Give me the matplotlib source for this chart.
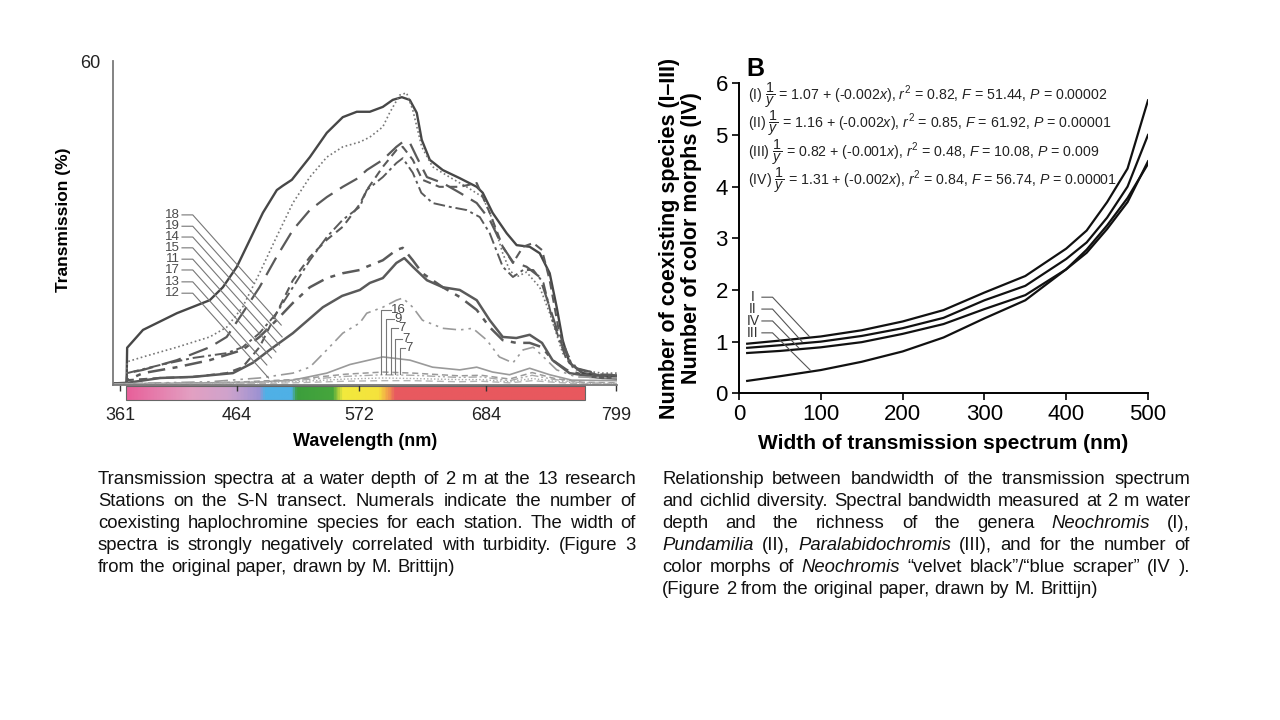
import matplotlib
matplotlib.use("Agg")
import matplotlib.pyplot as plt
import numpy as np
from matplotlib.colors import LinearSegmentedColormap
from matplotlib.patches import Rectangle

plt.rcParams['font.family'] = ['Liberation Sans', 'DejaVu Sans']
plt.rcParams['mathtext.fontset'] = 'custom'
plt.rcParams['mathtext.rm'] = 'Liberation Sans'
plt.rcParams['mathtext.it'] = 'Liberation Sans:italic'
plt.rcParams['mathtext.bf'] = 'Liberation Sans:bold'

# ---- left panel: transmission spectra, wavelength (nm) vs transmission (%)
wl_ticks = [361, 464, 572, 684, 799]

sa_nm = [356, 366.5, 367, 381, 411, 440, 451.6, 464, 475.5, 487, 499.3, 504.6, 512.6, 528.5, 543.5, 557.6, 570,
         581.5, 593, 601.8, 609.8, 616.8, 623, 627.4, 634.5, 646, 661, 676, 681.3, 690, 702.5, 711.3, 722.8,
         731.7, 740.5, 746.7, 752, 758, 769.7, 793.5, 800]
sa_pct = [0.3, 0.3, 6.9, 10.2, 13.3, 15.7, 18.1, 21.9, 26.9, 31.9, 36.1, 36.9, 38.0, 42.2, 46.7, 49.6, 50.6,
          50.6, 51.5, 52.8, 53.3, 52.8, 50.4, 45.4, 41.7, 39.8, 38.3, 36.7, 35.6, 31.9, 28.1, 25.9, 25.6,
          24.4, 20.7, 14.4, 8.3, 4.1, 2.2, 1.5, 1.5]

sb_nm = [356, 366.5, 367, 381, 411, 440, 455, 469, 484, 499, 513.5, 528.5, 543.5, 557.6, 572.7, 581.5, 593, 599,
         608, 614, 619.5, 627.4, 637, 652, 667, 681.3, 690, 699, 705, 711, 720, 731.7, 740.5, 752, 764, 787, 800]
sb_pct = [0.3, 0.3, 4.3, 5.2, 7.0, 8.9, 10.7, 14.4, 20.7, 27.4, 33.7, 38.5, 42.2, 44.1, 45.0, 45.9, 47.8, 50.4,
          53.7, 54.1, 50.9, 44.1, 40.4, 38.5, 36.7, 34.8, 30.6, 24.4, 21.3, 20.0, 20.9, 18.1, 13.3, 5.9, 2.8, 2.2, 2.2]

sc_nm = [356, 366.5, 367, 381, 411, 440, 455, 469, 484, 499, 513.5, 528.5, 543.5, 557.6, 571, 578.8, 593, 605,
         610.6, 617, 623, 632, 646, 661, 676, 687.5, 699, 708, 720, 731.7, 740.5, 752, 764, 787, 800]
sc_pct = [0.3, 0.3, 2.2, 2.8, 4.6, 7.0, 8.9, 13.3, 18.1, 23.7, 28.7, 32.4, 34.8, 36.7, 38.3, 39.8, 41.7, 44.1,
          45.0, 44.8, 42.2, 38.5, 37.4, 35.6, 33.7, 30.6, 25.6, 22.8, 21.9, 20.0, 14.4, 7.0, 3.1, 1.9, 1.8]

sd_nm = [356, 366.5, 367, 396, 425, 455, 469, 484, 499, 513.5, 528.5, 543.5, 557.6, 572.7, 578.8, 593, 605,
         610.6, 619.5, 628, 643, 661, 676, 687.5, 699, 708, 717, 726, 733.7, 740.5, 749, 760.8, 782, 800]
sd_pct = [0.3, 0.3, 0.9, 1.3, 1.5, 2.2, 3.3, 7.0, 13.3, 19.4, 23.7, 26.9, 29.3, 33.5, 36.1, 40.4, 43.5,
          44.1, 41.7, 38.0, 36.7, 36.7, 37.4, 31.9, 25.6, 22.6, 25.6, 26.3, 25.0, 19.4, 9.6, 3.3, 1.9, 1.9]

se_nm = [356, 366.5, 367, 396, 425, 455, 469, 484, 499, 513.5, 528.5, 543.5, 557.6, 572.7, 578.8, 593, 605,
         610.6, 619.5, 627, 637, 652, 667, 678.7, 687.5, 699, 708, 717, 726, 735, 743, 755.5, 769.7, 793.5, 800]
se_pct = [0.3, 0.3, 2.2, 3.7, 5.0, 5.9, 7.0, 9.6, 13.3, 18.1, 23.1, 27.4, 30.6, 33.0, 36.1, 38.5, 41.1,
          42.0, 39.3, 35.6, 33.7, 33.0, 32.4, 31.1, 28.1, 21.9, 20.0, 21.3, 21.3, 18.9, 12.0, 4.6, 2.2, 1.5, 1.5]

sf_nm = [356, 366.5, 367, 381, 411, 440, 469, 484, 499, 513.5, 528.5, 543.5, 557.6, 572.7, 578.8, 593, 605,
         610.6, 619.5, 628, 646, 661, 676, 687.5, 699, 711, 722.8, 733.7, 743, 755.5, 775.8, 800]
sf_pct = [0.3, 0.3, 0.9, 2.2, 3.3, 4.6, 6.5, 8.9, 12.0, 15.2, 18.1, 19.8, 20.7, 21.3, 21.9, 23.1, 25.0,
          25.4, 23.1, 20.7, 18.1, 16.3, 13.9, 10.7, 8.3, 7.8, 7.8, 7.0, 4.6, 2.8, 1.5, 1.3]

sg_nm = [356, 367, 396, 425, 460.5, 478, 493, 513.5, 540, 557, 572.7, 581.5, 593, 605, 612, 619.5, 632, 646,
         661, 676, 687.5, 699, 711, 722.8, 733.7, 743, 758, 787, 800]
sg_pct = [0.3, 0.4, 1.3, 1.5, 2.2, 4.1, 6.5, 9.6, 14.4, 16.5, 17.6, 18.9, 19.8, 22.6, 23.5, 21.9, 19.4, 18.1,
          17.6, 15.7, 12.0, 8.9, 8.7, 9.3, 7.8, 4.6, 2.2, 1.3, 1.2]

sh_nm = [356, 440, 484, 513.5, 528.5, 543.5, 557.6, 572.7, 578.8, 593, 605, 610.6, 619.5, 628, 646, 661, 672.5,
         685, 696, 708, 717, 726, 735, 746.7, 764, 800]
sh_pct = [0.2, 0.6, 1.3, 2.2, 3.3, 6.5, 9.6, 11.5, 13.3, 14.4, 15.7, 16.1, 14.4, 12.0, 10.5, 10.2, 10.5,
          8.3, 5.2, 4.1, 6.5, 7.0, 5.2, 2.8, 1.5, 1.3]

si_nm = [356, 480, 513.5, 543.5, 564, 593, 617, 637, 661, 676, 690, 705, 722.8, 740.5, 760, 800]
si_pct = [0.2, 0.5, 0.9, 2.2, 3.8, 5.2, 4.6, 3.3, 2.8, 3.3, 2.4, 1.9, 3.1, 1.9, 0.9, 0.8]

low_nm = [356, 460, 513.5, 560, 593, 620, 660, 680, 705, 725, 745, 770, 800]
sj_pct = [0.2, 0.5, 1.0, 2.0, 2.4, 2.2, 1.7, 1.8, 1.1, 2.3, 1.2, 0.5, 0.4]
sk_pct = [0.1, 0.4, 0.8, 1.6, 1.9, 1.8, 1.4, 1.5, 0.8, 1.8, 1.0, 0.4, 0.3]
sl_pct = [0.1, 0.3, 0.6, 1.1, 1.3, 1.2, 1.0, 1.0, 0.6, 1.2, 0.7, 0.3, 0.3]
sm_pct = [0.1, 0.2, 0.4, 0.7, 0.8, 0.8, 0.6, 0.7, 0.4, 0.8, 0.5, 0.2, 0.2]

# station labels (number of species) and where their leader lines end (nm, %)
left_labels = ['18', '19', '14', '15', '11', '17', '13', '12']
left_label_pct = [31.5, 29.4, 27.4, 25.4, 23.3, 21.3, 19.1, 17.0]
left_end_nm = [478.7, 503.2, 504, 501.6, 498.5, 494.6, 490.5, 492]
left_end_pct = [18.9, 11.1, 8.9, 7.4, 6.1, 5.0, 3.7, 1.3]

right_labels = ['16', '9', '7', '7', '7']
right_label_nm = [600.5, 603.5, 606.5, 610.4, 613.3]
right_label_pct = [13.9, 12.2, 10.5, 8.6, 6.8]
right_stem_nm = [591.8, 596.2, 599.8, 604.2, 608]

# ---- right panel: bandwidth vs diversity
bw_x = [10, 50, 100, 150, 200, 250, 300, 350, 400, 425, 450, 475, 500]
div_I = [0.96, 1.02, 1.10, 1.22, 1.39, 1.61, 1.95, 2.27, 2.80, 3.15, 3.70, 4.35, 5.67]
div_II = [0.88, 0.93, 1.00, 1.11, 1.26, 1.46, 1.80, 2.08, 2.60, 2.92, 3.40, 4.00, 5.00]
div_IV = [0.78, 0.82, 0.89, 0.99, 1.15, 1.34, 1.63, 1.90, 2.40, 2.72, 3.18, 3.70, 4.49]
div_III = [0.24, 0.33, 0.45, 0.61, 0.81, 1.08, 1.45, 1.80, 2.40, 2.78, 3.25, 3.78, 4.44]

eq_lines = [
    r'(I) $\dfrac{1}{y}$ = 1.07 + (-0.002$x$), $r^2$ = 0.82, $F$ = 51.44, $P$ = 0.00002',
    r'(II) $\dfrac{1}{y}$ = 1.16 + (-0.002$x$), $r^2$ = 0.85, $F$ = 61.92, $P$ = 0.00001',
    r'(III) $\dfrac{1}{y}$ = 0.82 + (-0.001$x$), $r^2$ = 0.48, $F$ = 10.08, $P$ = 0.009',
    r'(IV) $\dfrac{1}{y}$ = 1.31 + (-0.002$x$), $r^2$ = 0.84, $F$ = 56.74, $P$ = 0.00001',
]
curve_labels = ['I', 'II', 'IV', 'III']
curve_label_y = [1.86, 1.63, 1.40, 1.17]
curve_end_x = [86, 77, 73, 87]
curve_end_y = [1.10, 1.00, 0.88, 0.45]

caption_left = [
    "Transmission spectra at a water depth of 2 m at the 13 research",
    "Stations on the S-N transect. Numerals indicate the number of",
    "coexisting haplochromine species for each station. The width of",
    "spectra is strongly negatively correlated with turbidity. (Figure 3",
    "from the original paper, drawn by M. Brittijn)",
]
caption_right = [
    "Relationship between bandwidth of the transmission spectrum",
    "and cichlid diversity. Spectral bandwidth measured at 2 m water",
    "depth and the richness of the genera _Neochromis (I),",
    "_Pundamilia (II), _Paralabidochromis (III), and for the number of",
    "color morphs of _Neochromis “velvet black”/“blue scraper” (IV ).",
    "(Figure 2 from the original paper, drawn by M. Brittijn)",
]

W, H = 1280, 720
fig = plt.figure(figsize=(12.8, 7.2), dpi=100)
fig.patch.set_facecolor('white')

# ================= left panel =================
ax = fig.add_axes([113 / W, 1 - 385 / H, 504 / W, 324 / H])
dark = '#474747'
mid = '#5a5a5a'
light = '#9a9a9a'
curves = [
    (sa_nm, sa_pct, dict(color=dark, lw=1.7, ls='-')),
    (sb_nm, sb_pct, dict(color='#777777', lw=1.2, ls=(0, (1, 1.6)))),
    (sc_nm, sc_pct, dict(color=mid, lw=1.6, ls=(0, (9, 4)))),
    (sd_nm, sd_pct, dict(color=mid, lw=1.5, ls=(0, (4, 2.5)))),
    (se_nm, se_pct, dict(color=mid, lw=1.4, ls=(0, (6, 2, 1.5, 2)))),
    (sf_nm, sf_pct, dict(color=mid, lw=1.8, ls=(0, (7, 3, 2, 3)))),
    (sg_nm, sg_pct, dict(color=mid, lw=1.8, ls='-')),
    (sh_nm, sh_pct, dict(color=light, lw=1.2, ls=(0, (8, 3, 1.5, 3, 1.5, 3)))),
    (si_nm, si_pct, dict(color=light, lw=1.2, ls='-')),
    (low_nm, sj_pct, dict(color=light, lw=1.1, ls=(0, (4, 2.5)))),
    (low_nm, sk_pct, dict(color='#aaaaaa', lw=1.0, ls=(0, (6, 2, 1.5, 2, 1.5, 2)))),
    (low_nm, sl_pct, dict(color='#aaaaaa', lw=1.0, ls=(0, (1, 1.5)))),
    (low_nm, sm_pct, dict(color='#b5b5b5', lw=1.0, ls=(0, (5, 3)))),
]
for xs, ys, st in curves:
    ax.plot(xs, ys, **st)

# visible spectrum bar under the axis
bar_cmap = LinearSegmentedColormap.from_list('spec', [
    (0.0, '#e8609a'), (0.14, '#e3a0c2'), (0.22, '#cfa3cc'), (0.29, '#9c92d2'),
    (0.30, '#4fb0e6'), (0.36, '#4fb0e6'), (0.37, '#3c9e3c'), (0.45, '#46a63c'),
    (0.47, '#f2ea3c'), (0.55, '#f5e23c'), (0.57, '#f2a04a'), (0.585, '#e85a60'),
    (1.0, '#e8585e')])
grad = np.linspace(0, 1, 400)[None, :]
ax.imshow(grad, cmap=bar_cmap, aspect='auto', extent=[366, 772, -2.8, -0.2],
          clip_on=False, zorder=1)
ax.add_patch(Rectangle((366, -2.8), 406, 2.6, fill=False, ec='#666666', lw=0.8, clip_on=False))

ax.set_xlim(354.5, 800)
ax.set_ylim(0, 60)
for s in ['top', 'right']:
    ax.spines[s].set_visible(False)
for s in ['left', 'bottom']:
    ax.spines[s].set_color('#7a7a7a')
    ax.spines[s].set_linewidth(1.3)
ax.set_xticks(wl_ticks)
ax.set_xticklabels([str(t) for t in wl_ticks], fontsize=13, color='#222222')
ax.tick_params(axis='x', direction='out', length=4, width=1, color='#333333', pad=12)
ax.set_yticks([60])
ax.set_yticklabels(['60'], fontsize=13, color='#222222')
ax.tick_params(axis='y', length=0, pad=9)
ax.set_xlabel('Wavelength (nm)', fontsize=13, fontweight='bold', labelpad=6)
ax.set_ylabel('Transmission (%)', fontsize=12.5, fontweight='bold')
ax.yaxis.set_label_coords(-0.083, 0.51)

lab_c = '#4a4a4a'
for lab, ly, ex, ey in zip(left_labels, left_label_pct, left_end_nm, left_end_pct):
    ax.text(414, ly, lab, fontsize=9.5, color=lab_c, ha='right', va='center')
    ax.plot([415.5, 425, ex], [ly, ly, ey], color='#777777', lw=0.8, clip_on=False)
for lab, tx, ty, sx in zip(right_labels, right_label_nm, right_label_pct, right_stem_nm):
    ax.text(tx, ty, lab, fontsize=9.5, color=lab_c, ha='left', va='center')
    ax.plot([tx - 0.5, sx, sx], [ty, ty, 2.0], color='#777777', lw=0.8)

# ================= right panel =================
bx = fig.add_axes([739 / W, 1 - 393.3 / H, 409 / W, 310 / H])
for ys in [div_I, div_II, div_IV, div_III]:
    bx.plot(bw_x, ys, color='#111111', lw=1.6)
bx.set_xlim(0, 500)
bx.set_ylim(0, 6)
bx.set_xticks([0, 100, 200, 300, 400, 500])
bx.set_yticks([0, 1, 2, 3, 4, 5, 6])
bx.tick_params(labelsize=16, direction='out', length=5, width=1.2, pad=3)
for s in ['top', 'right']:
    bx.spines[s].set_visible(False)
for s in ['left', 'bottom']:
    bx.spines[s].set_linewidth(1.4)
bx.set_xlabel('Width of transmission spectrum (nm)', fontsize=15, fontweight='bold', labelpad=6)
bx.set_ylabel('Number of coexisting species (I–III)\nNumber of color morphs (IV)',
              fontsize=15.5, fontweight='bold', linespacing=1.05)
bx.yaxis.set_label_coords(-0.09, 0.5)
bx.text(0.017, 1.045, 'B', transform=bx.transAxes, fontsize=18, fontweight='bold', va='center')

for i, line in enumerate(eq_lines):
    bx.text(0.022, 0.962 - i * 0.092, line, transform=bx.transAxes, fontsize=10.2,
            color='#222222', va='center')

for lab, ly, ex, ey in zip(curve_labels, curve_label_y, curve_end_x, curve_end_y):
    bx.text(17, ly, lab, fontsize=10, color='#333333', ha='center', va='center')
    bx.plot([28, 41, ex], [ly, ly, ey], color='#555555', lw=0.8)


# ================= captions (justified) =================
def paragraph(lines, x0, x1, y0, dy, size):
    r = fig.canvas.get_renderer()
    space = 0.278 * size * 100 / 72
    for i, line in enumerate(lines):
        objs = []
        for tok in line.split():
            style = 'italic' if tok.startswith('_') else 'normal'
            objs.append(fig.text(0, 1 - (y0 + i * dy) / H, tok.lstrip('_'), fontsize=size,
                                 style=style, va='center_baseline', ha='left', color='#111111'))
        widths = [o.get_window_extent(r).width for o in objs]
        if i == len(lines) - 1:
            gap = space
        else:
            gap = (x1 - x0 - sum(widths)) / (len(objs) - 1)
        x = x0
        for o, w in zip(objs, widths):
            o.set_x(x / W)
            x += w + gap


paragraph(caption_left, 98, 636, 478, 22, 13.3)
paragraph(caption_right, 662, 1190, 478, 22, 13.3)

fig.savefig('out.png', dpi=100, facecolor='white')
